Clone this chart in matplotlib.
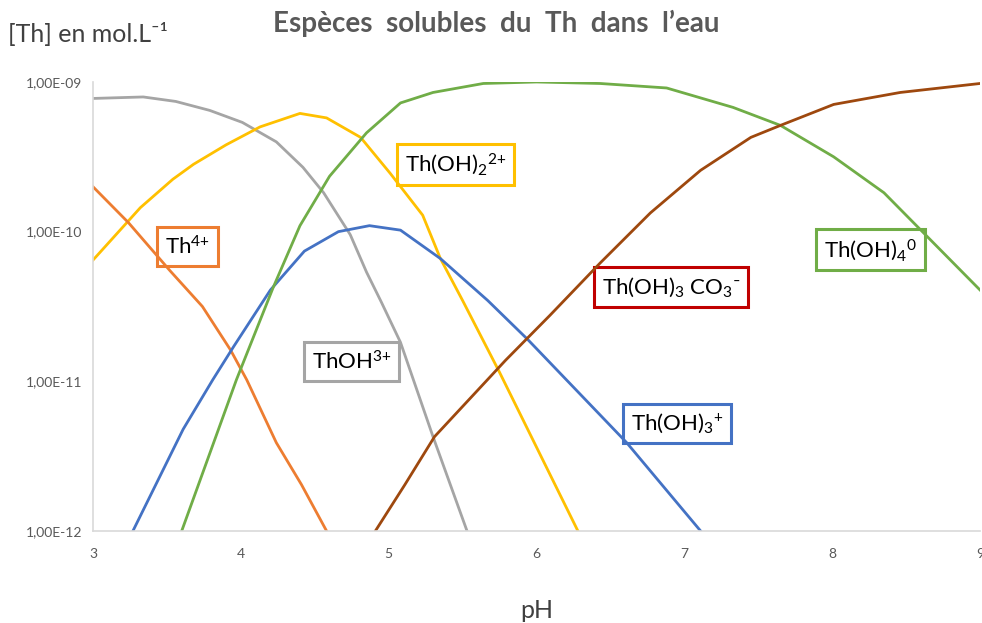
import numpy as np
import matplotlib.pyplot as plt

plt.rcParams['font.family'] = ['Lato', 'DejaVu Sans']
plt.rcParams['mathtext.fontset'] = 'custom'
plt.rcParams['mathtext.rm'] = 'Lato'
plt.rcParams['mathtext.it'] = 'Lato:italic'

# valeurs : pH et log10([Th])
ph_th4 = [3.0, 3.24, 3.52, 3.74, 3.93, 4.04, 4.24, 4.41, 4.58]
log_th4 = [-9.70, -9.94, -10.26, -10.50, -10.79, -10.99, -11.41, -11.69, -12.0]

ph_thoh = [3.0, 3.34, 3.56, 3.79, 4.01, 4.24, 4.42, 4.56, 4.74, 4.85, 4.95, 5.08, 5.30, 5.53]
log_thoh = [-9.11, -9.10, -9.13, -9.19, -9.27, -9.40, -9.57, -9.74, -10.02, -10.27, -10.47,
            -10.74, -11.37, -12.0]

ph_thoh2 = [3.0, 3.32, 3.54, 3.68, 3.90, 4.13, 4.40, 4.58, 4.81, 5.01, 5.23, 5.35, 5.50,
            5.75, 6.00, 6.28]
log_thoh2 = [-10.19, -9.84, -9.65, -9.55, -9.42, -9.30, -9.21, -9.24, -9.37, -9.61, -9.89,
             -10.18, -10.46, -10.94, -11.44, -12.0]

ph_thoh3 = [3.27, 3.61, 3.81, 3.95, 4.20, 4.43, 4.66, 4.87, 5.08, 5.35, 5.67, 5.94, 6.61, 7.11]
log_thoh3 = [-12.0, -11.32, -10.99, -10.77, -10.39, -10.13, -10.00, -9.96, -9.99, -10.18,
             -10.46, -10.72, -11.41, -12.0]

ph_thoh4 = [3.60, 3.97, 4.22, 4.40, 4.60, 4.85, 5.08, 5.30, 5.64, 6.0, 6.43, 6.88, 7.33,
            7.65, 8.01, 8.35, 8.58, 9.0]
log_thoh4 = [-12.0, -10.99, -10.37, -9.96, -9.63, -9.34, -9.14, -9.07, -9.01, -9.0, -9.01,
             -9.04, -9.17, -9.29, -9.50, -9.74, -9.97, -10.39]

ph_carb = [4.91, 5.11, 5.31, 5.79, 6.09, 6.43, 6.77, 7.11, 7.45, 7.65, 8.01, 8.46, 9.0]
log_carb = [-12.0, -11.69, -11.37, -10.86, -10.56, -10.21, -9.875, -9.59, -9.37, -9.29,
            -9.15, -9.07, -9.01]

series = [
    (ph_thoh, log_thoh, '#A5A5A5'),
    (ph_thoh2, log_thoh2, '#FFC000'),
    (ph_th4, log_th4, '#ED7D31'),
    (ph_thoh3, log_thoh3, '#4472C4'),
    (ph_thoh4, log_thoh4, '#70AD47'),
    (ph_carb, log_carb, '#9E480E'),
]

labels = [
    (r'Th$^{4{+}}$', 3.64, -10.10, '#ED7D31'),
    (r'Th(OH)$_2$$^{2{+}}$', 5.45, -9.55, '#FFC000'),
    (r'ThOH$^{3{+}}$', 4.75, -10.87, '#A5A5A5'),
    (r'Th(OH)$_3$ CO$_3$⁻', 6.91, -10.37, '#C00000'),
    (r'Th(OH)$_4$$^{0}$', 8.26, -10.12, '#70AD47'),
    (r'Th(OH)$_3$$^{+}$', 6.95, -11.28, '#4472C4'),
]

fig = plt.figure(figsize=(9.82, 6.23), dpi=100)
ax = fig.add_axes([0.0947, 0.1477, 0.9033, 0.7207])

for x, ly, c in series:
    ax.plot(x, 10 ** np.array(ly), color=c, lw=2.0, solid_joinstyle='round')

ax.set_yscale('log')
ax.set_xlim(3, 9)
ax.set_ylim(1e-12, 1e-9)
ax.set_yticks([1e-12, 1e-11, 1e-10, 1e-9])
ax.set_yticklabels(['1,00E-12', '1,00E-11', '1,00E-10', '1,00E-09'])
ax.yaxis.set_minor_locator(plt.NullLocator())
ax.set_xticks(range(3, 10))
ax.tick_params(length=0, labelsize=10, colors='#595959', pad=12)
ax.tick_params(axis='y', pad=8)

for s in ['top', 'right']:
    ax.spines[s].set_visible(False)
for s in ['left', 'bottom']:
    ax.spines[s].set_color('#D9D9D9')
    ax.spines[s].set_linewidth(1.2)

for txt, x, ly, c in labels:
    ax.text(x, 10 ** ly, txt, fontsize=16, color='black', ha='center', va='center',
            bbox=dict(boxstyle='square,pad=0.35', fc='none', ec=c, lw=2.2), zorder=1)

ax.set_xlabel('pH', fontsize=18, color='#404040', labelpad=28)
fig.text(0.505, 0.962, "Espèces  solubles  du  Th  dans  l’eau", fontsize=20, fontweight='bold',
         color='#595959', ha='center', va='center')
fig.text(0.008, 0.945, '[Th] en mol.L⁻¹', fontsize=18, color='#404040',
         ha='left', va='center')

fig.savefig('out.png', dpi=100)
